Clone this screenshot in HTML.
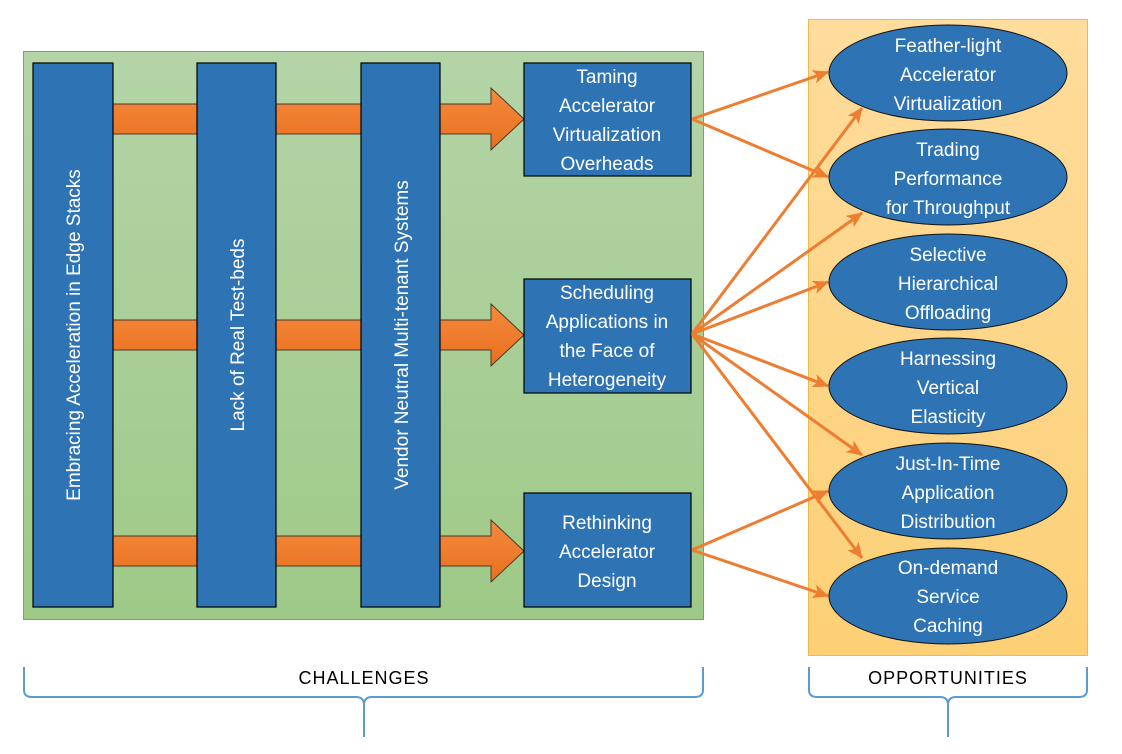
<!DOCTYPE html>
<html><head><meta charset="utf-8"><style>
html,body{margin:0;padding:0;background:#fff;}
svg text{font-family:"Liberation Sans",sans-serif;}
</style></head><body>
<svg width="1122" height="749" viewBox="0 0 1122 749" xmlns="http://www.w3.org/2000/svg">
<defs>
<linearGradient id="g" x1="0" y1="0" x2="0" y2="1"><stop offset="0" stop-color="#b4d4a7"/><stop offset="1" stop-color="#9ec987"/></linearGradient>
<linearGradient id="o" x1="0" y1="0" x2="0" y2="1"><stop offset="0" stop-color="#fedc9c"/><stop offset="1" stop-color="#fdd076"/></linearGradient>
<linearGradient id="ar" x1="0" y1="0" x2="0" y2="1"><stop offset="0" stop-color="#f58a3c"/><stop offset="1" stop-color="#e8701f"/></linearGradient>
<marker id="m" markerWidth="8" markerHeight="8" refX="7" refY="4" orient="auto" markerUnits="userSpaceOnUse" viewBox="0 0 8 8"><path d="M0,0 L8,4 L0,8 Z" fill="#ed7d31"/></marker>
<marker id="mh" markerWidth="16" markerHeight="14" refX="15" refY="7" orient="auto" markerUnits="userSpaceOnUse"><path d="M0,0 L16,7 L0,14 L4,7 Z" fill="#ed7d31"/></marker>
</defs>
<rect x="23.5" y="51.5" width="680" height="568" fill="url(#g)" stroke="#70ad47"/>
<rect x="808.5" y="19.5" width="279" height="636" fill="url(#o)" stroke="#f4b942"/>
<!-- arrows -->
<g fill="url(#ar)" stroke="#4a3a2a" stroke-width="1">
<path d="M113,104 H491 V88 L524,119 L491,150 V134 H113 Z"/>
<path d="M113,320 H491 V304 L524,335 L491,366 V350 H113 Z"/>
<path d="M113,536 H491 V520 L524,551 L491,582 V566 H113 Z"/>
</g>
<g fill="#2e74b5" stroke="#000" stroke-width="1.2">
<rect x="33" y="63" width="80" height="544"/>
<rect x="197" y="63" width="79" height="544"/>
<rect x="361" y="63" width="79" height="544"/>
<rect x="524" y="63" width="167" height="113"/>
<rect x="524" y="279" width="167" height="114"/>
<rect x="524" y="493" width="167" height="114"/>
</g>
<g fill="#fff" font-size="19" text-anchor="middle">
<text transform="translate(80,335) rotate(-90)">Embracing Acceleration in Edge Stacks</text>
<text transform="translate(244,335) rotate(-90)">Lack of Real Test-beds</text>
<text transform="translate(408,335) rotate(-90)">Vendor Neutral Multi-tenant Systems</text>
<text x="607" y="83">Taming</text><text x="607" y="112">Accelerator</text><text x="607" y="141">Virtualization</text><text x="607" y="170">Overheads</text>
<text x="607" y="299">Scheduling</text><text x="607" y="328">Applications in</text><text x="607" y="357">the Face of</text><text x="607" y="386">Heterogeneity</text>
<text x="607" y="529">Rethinking</text><text x="607" y="558">Accelerator</text><text x="607" y="587">Design</text>
</g>
<!-- ellipses -->
<g fill="#2e74b5" stroke="#111" stroke-width="1">
<ellipse cx="948" cy="73" rx="119" ry="48"/>
<ellipse cx="948" cy="177" rx="119" ry="48"/>
<ellipse cx="948" cy="282" rx="119" ry="48"/>
<ellipse cx="948" cy="386" rx="119" ry="48"/>
<ellipse cx="948" cy="491" rx="119" ry="48"/>
<ellipse cx="948" cy="596" rx="119" ry="48"/>
</g>
<!-- connectors -->
<g stroke="#ed7d31" stroke-width="3" fill="none" marker-end="url(#mh)">
<line x1="692" y1="119" x2="828" y2="72"/>
<line x1="692" y1="119" x2="828" y2="177"/>
<line x1="692" y1="334" x2="862" y2="108"/>
<line x1="692" y1="334" x2="862" y2="213"/>
<line x1="692" y1="334" x2="828" y2="282"/>
<line x1="692" y1="334" x2="828" y2="386"/>
<line x1="692" y1="334" x2="862" y2="455"/>
<line x1="692" y1="334" x2="862" y2="558"/>
<line x1="692" y1="550" x2="828" y2="491"/>
<line x1="692" y1="550" x2="828" y2="596"/>
</g>
<g fill="#fff" font-size="19" text-anchor="middle">
<text x="948" y="52">Feather-light</text><text x="948" y="81">Accelerator</text><text x="948" y="110">Virtualization</text>
<text x="948" y="156">Trading</text><text x="948" y="185">Performance</text><text x="948" y="214">for Throughput</text>
<text x="948" y="261">Selective</text><text x="948" y="290">Hierarchical</text><text x="948" y="319">Offloading</text>
<text x="948" y="365">Harnessing</text><text x="948" y="394">Vertical</text><text x="948" y="423">Elasticity</text>
<text x="948" y="470">Just-In-Time</text><text x="948" y="499">Application</text><text x="948" y="528">Distribution</text>
<text x="948" y="574">On-demand</text><text x="948" y="603">Service</text><text x="948" y="632">Caching</text>
</g>
<!-- braces -->
<g stroke="#5b9bd5" stroke-width="2" fill="none">
<path d="M24,667 V690 Q24,697 32,697 H356 Q364,697 364,705 V737 M364,705 Q364,697 372,697 H695 Q703,697 703,690 V667"/>
<path d="M809,667 V690 Q809,697 817,697 H940 Q948,697 948,705 V737 M948,705 Q948,697 956,697 H1079 Q1087,697 1087,690 V667"/>
</g>
<g fill="#000" font-size="18" text-anchor="middle" letter-spacing="1">
<text x="364" y="684">CHALLENGES</text>
<text x="948" y="684">OPPORTUNITIES</text>
</g>
</svg>
</body></html>
